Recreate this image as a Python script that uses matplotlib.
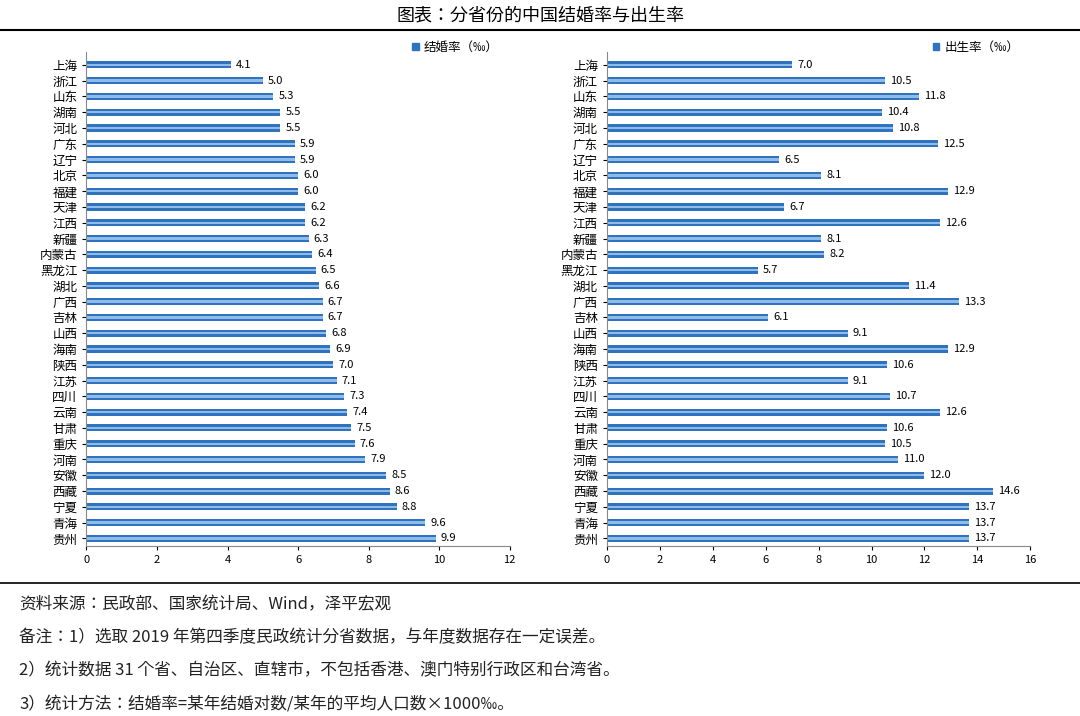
import matplotlib
matplotlib.use("Agg")
import matplotlib.pyplot as plt
from matplotlib import font_manager
from matplotlib.lines import Line2D

cjk = [f.name for f in font_manager.fontManager.ttflist if "CJK" in f.name]
cjk_pref = [n for n in ("Noto Sans CJK SC", "Noto Sans CJK JP", "Noto Sans CJK TC") if n in cjk]
plt.rcParams["font.family"] = (cjk_pref or cjk[:1]) + ["DejaVu Sans"]

marry_prov = ["上海", "浙江", "山东", "湖南", "河北", "广东", "辽宁", "北京", "福建", "天津",
              "江西", "新疆", "内蒙古", "黑龙江", "湖北", "广西", "吉林", "山西", "海南", "陕西",
              "江苏", "四川", "云南", "甘肃", "重庆", "河南", "安徽", "西藏", "宁夏", "青海", "贵州"]
marry_rate = [4.1, 5.0, 5.3, 5.5, 5.5, 5.9, 5.9, 6.0, 6.0, 6.2, 6.2, 6.3, 6.4, 6.5, 6.6, 6.7,
              6.7, 6.8, 6.9, 7.0, 7.1, 7.3, 7.4, 7.5, 7.6, 7.9, 8.5, 8.6, 8.8, 9.6, 9.9]
birth_rate = [7.0, 10.5, 11.8, 10.4, 10.8, 12.5, 6.5, 8.1, 12.9, 6.7, 12.6, 8.1, 8.2, 5.7, 11.4,
              13.3, 6.1, 9.1, 12.9, 10.6, 9.1, 10.7, 12.6, 10.6, 10.5, 11.0, 12.0, 14.6, 13.7,
              13.7, 13.7]

BAR = "#2F73BF"

fig = plt.figure(figsize=(10.8, 7.16), dpi=100)
fig.text(0.5, 0.978, "图表：分省份的中国结婚率与出生率", ha="center", va="center", fontsize=13)
fig.add_artist(Line2D([0.0, 1.0], [0.958, 0.958], color="black", lw=1.5))
fig.add_artist(Line2D([0.0, 1.0], [0.186, 0.186], color="black", lw=1.2))


def panel(rect, values, xmax, label):
    ax = fig.add_axes(rect)
    y = list(range(len(marry_prov)))
    ax.barh(y, values, height=0.45, color=BAR)
    ax.barh(y, values, height=0.15, color="#8FBBE8")
    for yi, v in zip(y, values):
        ax.text(v + xmax * 0.012, yi, f"{v:.1f}", va="center", fontsize=8)
    ax.set_yticks(y)
    ax.set_yticklabels(marry_prov, fontsize=9)
    ax.set_ylim(len(y) - 0.5, -0.8)
    ax.set_xlim(0, xmax)
    ax.set_xticks(range(0, xmax + 1, 2))
    ax.tick_params(axis="x", labelsize=8, length=3)
    ax.tick_params(axis="y", length=3)
    for s in ("top", "right"):
        ax.spines[s].set_visible(False)
    for s in ("left", "bottom"):
        ax.spines[s].set_color("#888888")
    ax.legend(handles=[plt.Rectangle((0, 0), 1, 1, color=BAR)], labels=[label],
              loc="upper right", bbox_to_anchor=(1.0, 1.045), frameon=False,
              fontsize=9, handlelength=0.5, handleheight=0.5, handletextpad=0.4)
    return ax


panel([0.080, 0.237, 0.392, 0.69], marry_rate, 12, "结婚率（‰）")
panel([0.562, 0.237, 0.392, 0.69], birth_rate, 16, "出生率（‰）")

notes = ["资料来源：民政部、国家统计局、Wind，泽平宏观",
         "备注：1）选取 2019 年第四季度民政统计分省数据，与年度数据存在一定误差。",
         "2）统计数据 31 个省、自治区、直辖市，不包括香港、澳门特别行政区和台湾省。",
         "3）统计方法：结婚率=某年结婚对数/某年的平均人口数×1000‰。"]
for i, t in enumerate(notes):
    fig.text(0.018, 0.155 - i * 0.046, t, fontsize=12, style="italic", va="center",
             color="#222222")

fig.savefig("out.png", dpi=100)
